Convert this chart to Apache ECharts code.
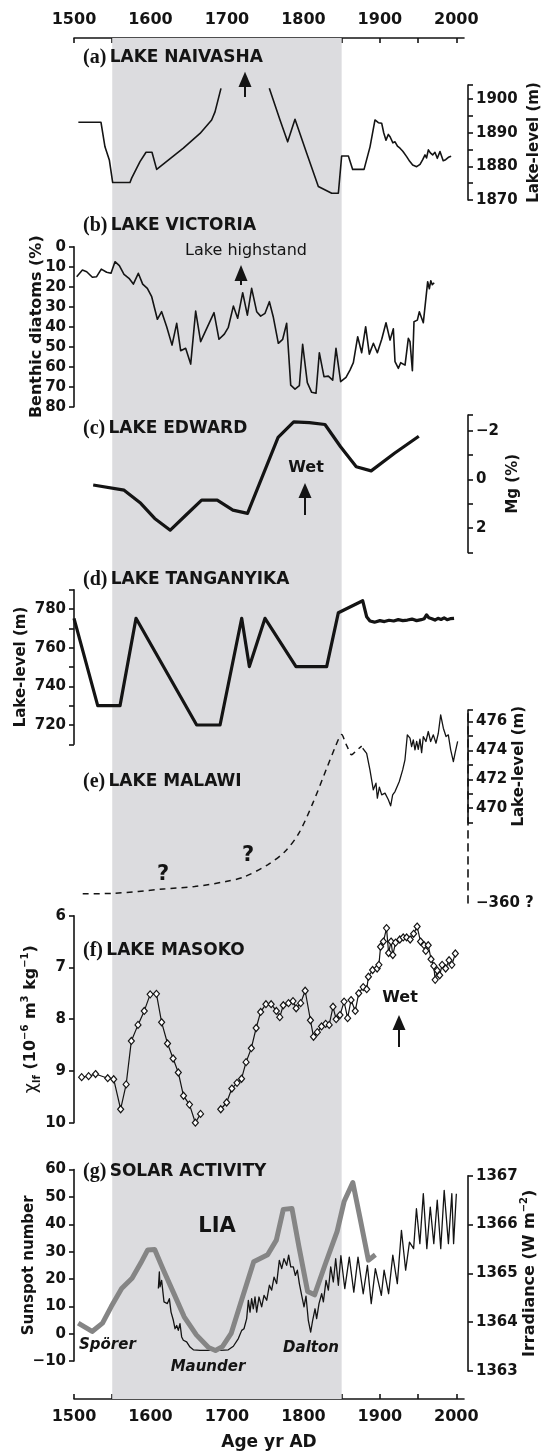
<!DOCTYPE html>
<html><head><meta charset="utf-8">
<script src="https://cdn.jsdelivr.net/npm/echarts@6/dist/echarts.min.js"></script>
<style>html,body{margin:0;padding:0;background:#fff}#c{width:545px;height:1453px}</style>
</head><body><div id="c"></div><script>
// ---------------- data ----------------
const yearTicks = [1500,1550,1600,1650,1700,1750,1800,1850,1900,1950,2000];
const yearLabels = [1500,1600,1700,1800,1900,2000];
const liaSpan = [1550, 1850];

const naivashaYear = [1505.7,1535.3,1540.5,1546.2,1550.6,1573.2,1575.4,1586.3,1594.2,1602,1608.1,1643,1664.8,1680,1684.4,1692.2,1724,1755.4,1769.4,1779.4,1789,1804.3,1819.5,1837,1845.7,1850,1858.8,1864.4,1879.3,1887.1,1893.6,1898,1902.4,1905,1908,1911,1913.3,1917,1919.8,1923,1926.3,1930,1935,1939,1942.9,1945,1948.1,1952.5,1956,1959,1961,1963.4,1966,1969,1972,1975.1,1978.6,1982.8,1986,1989.6,1993.2];
const naivashaLevel = [1893.1,1893.1,1885.8,1881.9,1875.2,1875.2,1876.5,1881.4,1884.2,1884.2,1879.1,1885.4,1889.8,1893.8,1896.2,1903.2,null,1903.2,1893.8,1887.3,1894,1883.9,1874,1872,1872,1883.1,1883.1,1879.1,1879.1,1885.8,1893.8,1893,1892.8,1890,1887.8,1889.5,1888.8,1887,1887.3,1886,1885.4,1884.5,1882.9,1881.5,1880.4,1880.8,1879.9,1880.6,1882,1883.4,1882.5,1884.9,1884,1883.4,1884.2,1882.4,1884.4,1881.7,1882,1882.7,1883];

const victoriaYear = [1503.5,1511,1516.6,1524,1529.6,1535.7,1542.7,1548.4,1553.6,1559.3,1565.4,1571.9,1577.6,1584.1,1589.8,1595.9,1601.6,1609,1614.6,1621.2,1628.2,1634.3,1639.5,1646,1652.6,1659.1,1665.6,1683.1,1689.6,1696.6,1701.8,1708.4,1714,1720.6,1726.7,1732.3,1738.9,1744.1,1749.8,1755.5,1760.7,1767.2,1772.9,1778.1,1783.4,1789,1794.7,1799,1805.1,1810.8,1816.5,1820.8,1826.9,1832.6,1838.3,1842.6,1848.7,1855.7,1860.9,1865.3,1871,1876.2,1881.4,1886.2,1891.5,1896.7,1902.4,1908,1913.3,1917.6,1919.8,1924.2,1927.2,1932.9,1937.2,1939.4,1942.5,1944.6,1949,1951.6,1956.8,1962.5,1964.7,1966.6,1968.5,1971];
const victoriaBenthic = [15,11.7,12.5,15.3,15,11.2,12.8,13.3,7.5,9.5,13.8,15.8,18.7,13.3,18.7,20.8,25,36.3,32.5,40,49.2,38.3,52,50.8,58.7,32.2,47.5,33,46.3,43.7,40.3,29.7,35.8,23,34.2,20.8,32.5,34.7,33.3,27.5,35.3,48.3,46.3,38.3,69.2,71.2,69.5,48.8,68,72.8,73.3,53,65,64.7,66.7,50.8,67.5,65.3,61.7,58,45,53,40,53.7,48.3,53,46.3,38,46.7,41,57.5,60.8,58,59.2,45.8,47.5,62,37.5,36.7,32.5,38,17.5,21,17,19,18];

const edwardYear = [1525.1,1565.5,1587.3,1605.5,1625.9,1646.5,1666.9,1687.3,1707.8,1726.9,1766.9,1787.3,1807.7,1828.2,1848.6,1869.1,1888.6,1919.1,1950.9];
const edwardMg = [0.23,0.44,0.98,1.6,2.08,1.46,0.85,0.85,1.26,1.39,-1.72,-2.36,-2.33,-2.25,-1.34,-0.52,-0.35,-1.07,-1.77];

const tanganyikaYear = [1500,1531,1560.2,1581.1,1660.4,1691,1719.3,1729.3,1749.8,1790.3,1830.4,1845.7,1877.5,1882.7,1887,1893,1900,1906,1912,1918,1924,1930,1936,1942,1948,1954,1958,1961,1964,1968,1972,1976,1980,1984,1988,1992,1997];
const tanganyikaLevel = [775.2,730,730,775.2,720,720,775.2,750.2,775.2,750.2,750.2,778.1,784.3,776,773.8,773.2,774,773.5,774.2,773.8,774.5,774,774.3,774.8,774,774.5,775,777,775.5,775,774.3,775.2,774.6,775.4,774.5,775,775.2];

const malawiInferredYear = [1511.4,1551,1616.9,1657.7,1698.6,1721.4,1753.2,1775.9,1794.1,1812.3,1830.5,1841.8,1847,1850,1854.4,1857,1863.1,1869.6,1876.2];
const malawiInferredLevel = [464.07,464.1,464.4,464.57,464.92,465.22,466.08,467,468.27,470.35,472.77,474.27,474.9,475.1,474.6,474.3,473.7,474.0,474.3];
const malawiYear = [1877.5,1882.7,1887,1891.4,1894.9,1896.7,1899.3,1902.4,1906.7,1911.1,1914.1,1916.7,1919.8,1925.4,1929.8,1932.8,1935.9,1939.4,1941.5,1943.7,1945.9,1948.1,1950.2,1952.4,1954.6,1956.8,1960.2,1963.3,1966.4,1969.9,1973.4,1976.4,1979.5,1983,1986.5,1989.5,1992.6,1996.1,1998.3,2001.7];
const malawiLevel = [474.15,473.8,472.65,471.27,471.73,470.69,471.45,470.92,471.04,470.58,470.16,470.92,471.15,471.85,472.65,473.35,475.08,474.85,474.27,474.73,474.04,474.62,474.08,474.78,473.85,474.96,474.62,475.31,474.62,475.08,474.5,475.19,476.46,475.54,474.96,475.08,474.04,473.23,473.81,474.62];
const malawiBreakValue = 463.44; // axis break, labelled "−360 ?"

const masokoYear = [1510,1519.1,1528.2,1544.1,1551.9,1561,1568.2,1575,1583.7,1591.9,1599.6,1607.8,1614.6,1622.3,1629.6,1636.4,1643.2,1651,1658.7,1665.5,1678,1691.9,1699.6,1706.4,1713.2,1719.1,1725,1731.9,1738.2,1744.1,1751,1757.8,1764.6,1769.1,1773.7,1780.5,1786.4,1790.5,1796.4,1802.3,1809.2,1813.2,1818.2,1823.7,1829.1,1833.7,1838.7,1842.8,1847.8,1853.2,1857.8,1862.3,1867.8,1872.3,1878.2,1882.8,1885,1890.5,1896.4,1898.7,1900.9,1904.6,1908.7,1911.4,1914.6,1916.9,1920.5,1926,1930.5,1935,1939.6,1944.1,1948.7,1953.2,1957.8,1960,1963.2,1966.9,1970.5,1972.3,1975,1978.2,1981.4,1986,1990.5,1994.1,1998.7];
const masokoChi = [9.12,9.10,9.06,9.14,9.16,9.74,9.26,8.42,8.11,7.84,7.52,7.51,8.06,8.47,8.76,9.03,9.48,9.65,10.0,9.83,null,9.74,9.61,9.34,9.23,9.15,8.83,8.56,8.17,7.86,7.71,7.71,7.84,7.96,7.73,7.69,7.65,7.79,7.69,7.45,8.02,8.34,8.25,8.14,8.09,8.11,7.76,8.0,7.92,7.66,7.98,7.63,7.84,7.5,7.38,7.42,7.18,7.05,7.02,6.95,6.6,6.5,6.24,6.72,6.5,6.76,6.52,6.46,6.42,6.42,6.46,6.35,6.21,6.5,6.57,6.68,6.57,6.84,6.97,7.24,7.06,7.15,6.95,7.02,6.86,6.95,6.73];

const sunspotYear = [1610.3,1611.6,1612.5,1614.6,1617.7,1620.3,1622.1,1624.7,1626.9,1629.9,1632.1,1634.3,1636.4,1638.6,1640.8,1643,1647.3,1651.7,1656.1,1664.8,1677.9,1690.9,1701.8,1708.4,1714.9,1719.3,1722.3,1725.8,1728,1730.2,1732.3,1734.5,1736.7,1738.9,1741.9,1745.4,1748.5,1752,1755.5,1758.5,1761.6,1765,1768.5,1771.6,1774.6,1778.1,1780.7,1783.4,1786.8,1789.4,1792.1,1794.7,1798.2,1800.8,1803.4,1806.4,1809.5,1812.1,1815.2,1817.3,1820.4,1823.9,1826.1,1829.6,1832.6,1835.7,1839.1,1842.2,1845.7,1849,1854.1,1860,1865.9,1871.4,1878.2,1883.7,1888.7,1894.1,1901.9,1905.5,1911.4,1916.9,1922.8,1928.2,1933.7,1938.7,1944.1,1947.8,1952.3,1956.8,1961.4,1965.9,1970.5,1975,1979.6,1984.1,1989.6,1994.1,1996.4,2000];
const sunspotNumber = [16.5,22.6,17.1,19.5,11.6,12.2,11,12.8,7.9,4.9,1.8,3,1.2,3.7,-1.2,-2.4,-3,-4.9,-5.9,-6.1,-6.1,-6.1,-5.9,-4.6,-1.8,1.2,1.8,5.5,12.2,7.9,12.8,9.1,13.4,7.9,13.4,9.8,14,12.2,17.7,15.9,20.7,18.3,26.8,23.8,27.4,25,28.7,24.4,24.4,21.3,23.2,18.3,13.4,9.8,13.7,4.9,0.6,4.9,9.1,5.5,11,14.6,11.6,19.5,15.9,24.4,18.9,27.4,17.7,28.5,16.5,28,15.2,28,14.6,25,11,23.8,14,23.2,14.6,28.7,18.3,37.8,23.2,33.5,31.1,45.7,32.9,51.2,31.1,46.3,32.9,48.8,31.1,52.4,32.9,51.2,32.9,51.2];

const irradianceYear = [1505.5,1523.7,1537.3,1548.7,1562.3,1575.9,1587.3,1596.4,1605.5,1616.9,1630.5,1644.1,1660,1675.9,1685,1694.1,1705.5,1719.1,1735,1753.2,1764.6,1773.7,1785,1794.1,1805.5,1814.6,1828.2,1844.1,1853.2,1864.6,1873.7,1885,1894.1];
const irradianceValue = [1363.98,1363.81,1363.98,1364.32,1364.69,1364.9,1365.21,1365.48,1365.49,1365.07,1364.59,1364.11,1363.74,1363.48,1363.42,1363.5,1363.77,1364.45,1365.24,1365.38,1365.68,1366.31,1366.33,1365.55,1364.63,1364.56,1365.17,1365.86,1366.47,1366.86,1366.16,1365.27,1365.38];

// ---------------- chart ----------------
const pairs = (xs, ys) => xs.map((x, i) => [x, ys[i]]);
const FONT = 'DejaVu Sans';
const INK = '#141414';
const L = 74, R = 81;
const chart = echarts.init(document.getElementById('c'), null, {renderer: 'canvas'});

const grids = [
  {top: 38, height: 1361},      // 0 full (shading + year axes)
  {top: 85, height: 115},       // 1 a
  {top: 246.7, height: 160},    // 2 b
  {top: 415, height: 137.6},    // 3 c
  {top: 589.7, height: 154.6},  // 4 d
  {top: 710, height: 192.9},    // 5 e full (dashed axis)
  {top: 710, height: 112.6},    // 6 e solid axis
  {top: 915.7, height: 207},    // 7 f
  {top: 1169.6, height: 191.4}, // 8 g left
  {top: 1175.7, height: 195.3}  // 9 g right
].map(g => Object.assign({left: L, right: R, outerBoundsMode: 'none', containLabel: false}, g));

const plain = (v) => (v < 0 ? '\u2212' + Math.abs(v) : String(v));
const labelStyle = {color: INK, fontFamily: FONT, fontWeight: 'bold', fontSize: 15};
const nameStyle = {color: INK, fontFamily: FONT, fontWeight: 'bold', fontSize: 15};
function yAx(o) {
  const base = {
    type: 'value', splitLine: {show: false}, scale: true,
    axisLine: {show: true, onZero: false, lineStyle: {color: INK, width: 1.6}},
    axisTick: {show: true, length: 5, lineStyle: {color: INK, width: 1.6}},
    axisLabel: Object.assign({margin: 8, formatter: plain}, labelStyle),
    nameLocation: 'middle', nameTextStyle: nameStyle, nameRotate: 90, nameMoveOverlap: false
  };
  const out = Object.assign(base, o);
  if (o.axisTickX) { out.axisTick = Object.assign({}, base.axisTick, o.axisTickX); delete out.axisTickX; }
  if (o.axisLabelX) { out.axisLabel = Object.assign({}, base.axisLabel, o.axisLabelX); delete out.axisLabelX; }
  if (o.axisLineX) { out.axisLine = Object.assign({}, base.axisLine, o.axisLineX); delete out.axisLineX; }
  return out;
}
const every = (step) => (v) => (Math.abs(v / step - Math.round(v / step)) < 1e-6 ? String(v) : '');

const xAxes = [
  {type: 'value', gridIndex: 0, position: 'top', min: 1500, max: 2010,
   axisLine: {show: true, onZero: false, lineStyle: {color: INK, width: 1.6}},
   axisTick: {show: true, inside: true, length: 5, customValues: yearTicks, lineStyle: {color: INK, width: 1.6}},
   axisLabel: Object.assign({}, labelStyle, {fontSize: 16, margin: 10, customValues: yearLabels, formatter: plain}),
   splitLine: {show: false}},
  {type: 'value', gridIndex: 0, position: 'bottom', min: 1500, max: 2010,
   name: 'Age yr AD', nameLocation: 'middle', nameGap: 35, nameMoveOverlap: false,
   nameTextStyle: Object.assign({}, nameStyle, {fontSize: 17}),
   axisLine: {show: true, onZero: false, lineStyle: {color: INK, width: 1.6}},
   axisTick: {show: true, inside: true, length: 5, customValues: yearTicks, lineStyle: {color: INK, width: 1.6}},
   axisLabel: Object.assign({}, labelStyle, {fontSize: 16, margin: 10, customValues: yearLabels, formatter: plain}),
   splitLine: {show: false}}
];
for (let g = 1; g < grids.length; g++) xAxes.push({type: 'value', gridIndex: g, min: 1500, max: 2010, show: false});

const subRich = {
  a: {fontFamily: FONT, fontWeight: 'bold', fontSize: 16, color: INK, lineHeight: 22},
  c: {fontFamily: FONT, fontSize: 18, color: INK, lineHeight: 22},
  s: {fontFamily: FONT, fontWeight: 'bold', fontSize: 10, color: INK, lineHeight: 12, verticalAlign: 'bottom'},
  u: {fontFamily: FONT, fontWeight: 'bold', fontSize: 10, color: INK, lineHeight: 12, verticalAlign: 'top'}
};

const yAxes = [
  {type: 'value', gridIndex: 0, min: 0, max: 1, show: false},
  yAx({gridIndex: 1, position: 'right', offset: 4, min: 1870, max: 1904.2, interval: 5,
       axisLabelX: {formatter: every(10)}, name: 'Lake-level (m)', nameGap: 59}),
  yAx({gridIndex: 2, position: 'left', inverse: true, min: 0, max: 80, interval: 10,
       name: 'Benthic diatoms (%)', nameGap: 29, nameTextStyle: Object.assign({}, nameStyle, {fontSize: 16})}),
  yAx({gridIndex: 3, position: 'right', offset: 4, inverse: true, min: -2.64, max: 3,
       axisTickX: {customValues: [-2.64, -2, -1, 0, 1, 2, 3]},
       axisLabelX: {customValues: [-2, 0, 2]},
       name: 'Mg (%)', nameGap: 38}),
  yAx({gridIndex: 4, position: 'left', min: 710, max: 790, interval: 10,
       axisLabelX: {formatter: every(20)}, name: 'Lake-level (m)', nameGap: 45}),
  yAx({gridIndex: 5, position: 'right', offset: 4, min: malawiBreakValue, max: 476.8,
       axisLineX: {lineStyle: {color: INK, width: 1.6, type: [7, 6]}},
       axisTickX: {customValues: [469, 470, 471, 472, 473, 474, 475, 476, 476.8]},
       axisLabelX: {customValues: [470, 472, 474, 476, malawiBreakValue],
         formatter: (v) => (Math.abs(v - malawiBreakValue) < 1e-6 ? '\u2212360 ?' : String(v))}}),
  yAx({gridIndex: 6, position: 'right', offset: 4, min: 469, max: 476.8,
       axisTickX: {show: false}, axisLabelX: {show: false},
       name: 'Lake-level (m)', nameGap: 44}),
  yAx({gridIndex: 7, position: 'left', inverse: true, min: 6, max: 10, interval: 1,
       name: '{c|\u03c7}{s|lf}{a| (10}{u|\u22126}{a| m}{u|3}{a| kg}{u|\u22121}{a|)}', nameGap: 32,
       nameTextStyle: {rich: subRich}}),
  yAx({gridIndex: 8, position: 'left', min: -10, max: 60, interval: 10,
       name: 'Sunspot number', nameGap: 37}),
  yAx({gridIndex: 9, position: 'right', offset: 4, min: 1363, max: 1367, interval: 1,
       name: '{a|Irradiance (W m}{u|\u22122}{a|)}', nameGap: 51, nameTextStyle: {rich: subRich}})
];

const lineS = (xi, yi, data, width, extra) => Object.assign({
  type: 'line', xAxisIndex: xi, yAxisIndex: yi, data: data, symbol: 'none', showSymbol: false,
  connectNulls: false, clip: false, z: 3, silent: true,
  lineStyle: {color: INK, width: width, join: 'round'}
}, extra || {});

const series = [
  {type: 'line', xAxisIndex: 0, yAxisIndex: 0, data: [[1500, 0.5]], symbol: 'none', z: 0, silent: true,
   lineStyle: {opacity: 0},
   markArea: {silent: true, itemStyle: {color: '#dcdcdf'}, data: [[{xAxis: liaSpan[0]}, {xAxis: liaSpan[1]}]]}},
  lineS(2, 1, pairs(naivashaYear, naivashaLevel), 1.6),
  lineS(3, 2, pairs(victoriaYear, victoriaBenthic), 1.6),
  lineS(4, 3, pairs(edwardYear, edwardMg), 3.2),
  lineS(5, 4, pairs(tanganyikaYear, tanganyikaLevel), 3.2),
  lineS(6, 5, pairs(malawiInferredYear, malawiInferredLevel), 1.5, {lineStyle: {color: INK, width: 1.5, type: [6, 5]}, smooth: 0.3}),
  lineS(6, 5, pairs(malawiYear, malawiLevel), 1.3),
  lineS(8, 7, pairs(masokoYear, masokoChi), 1.2, {symbol: 'diamond', showSymbol: true, symbolSize: [6, 7],
    itemStyle: {color: '#fff', borderColor: INK, borderWidth: 1.2}}),
  lineS(9, 8, pairs(sunspotYear, sunspotNumber), 1.3),
  lineS(10, 9, pairs(irradianceYear, irradianceValue), 5, {lineStyle: {color: '#858585', width: 5, join: 'round'}})
];

const titleRich = {
  p: {fontFamily: 'Liberation Serif', fontWeight: 'bold', fontSize: 20, fill: INK},
  t: {fontFamily: FONT, fontWeight: 'bold', fontSize: 17, fill: INK}
};
const title = (y, letter, text) => ({type: 'text', x: 83, y: y, z: 10,
  style: {text: '{p|(' + letter + ')} {t|' + text + '}', rich: titleRich, verticalAlign: 'middle', fill: INK}});
const label = (x, y, text, size, opts) => ({type: 'text', x: x, y: y, z: 10,
  style: Object.assign({text: text, fill: INK, font: 'bold ' + size + 'px "' + FONT + '"', align: 'center', verticalAlign: 'middle'}, opts || {})});
const arrow = (x, top, base, end, hw) => ([
  {type: 'polygon', z: 10, shape: {points: [[x, top], [x - hw, base], [x + hw, base]]}, style: {fill: INK}},
  {type: 'line', z: 10, shape: {x1: x, y1: base - 1, x2: x, y2: end}, style: {stroke: INK, lineWidth: 2}}
]);

const graphic = [
  title(58, 'a', 'LAKE NAIVASHA'),
  title(226, 'b', 'LAKE VICTORIA'),
  title(429, 'c', 'LAKE EDWARD'),
  title(580, 'd', 'LAKE TANGANYIKA'),
  title(782, 'e', 'LAKE MALAWI'),
  title(951, 'f', 'LAKE MASOKO'),
  title(1172, 'g', 'SOLAR ACTIVITY'),
  label(246, 251, 'Lake highstand', 16, {font: '16px "' + FONT + '"'}),
  label(306, 468, 'Wet', 16),
  label(400, 998, 'Wet', 16),
  label(163, 875, '?', 21),
  label(248, 856, '?', 21),
  label(217, 1227, 'LIA', 21),
  label(79, 1345, 'Sp\u00f6rer', 15, {align: 'left', font: 'italic bold 15px "' + FONT + '"'}),
  label(208, 1367, 'Maunder', 15, {font: 'italic bold 15px "' + FONT + '"'}),
  label(311, 1348, 'Dalton', 15, {font: 'italic bold 15px "' + FONT + '"'})
].concat(
  arrow(245, 71.7, 87, 97, 6.5),
  arrow(241, 265, 281, 285, 6.5),
  arrow(305, 483, 498, 515, 6.5),
  arrow(399, 1015, 1030, 1047, 6.5)
);

chart.setOption({
  animation: false,
  backgroundColor: '#fff',
  grid: grids,
  xAxis: xAxes,
  yAxis: yAxes,
  series: series,
  graphic: graphic
});
</script></body></html>
